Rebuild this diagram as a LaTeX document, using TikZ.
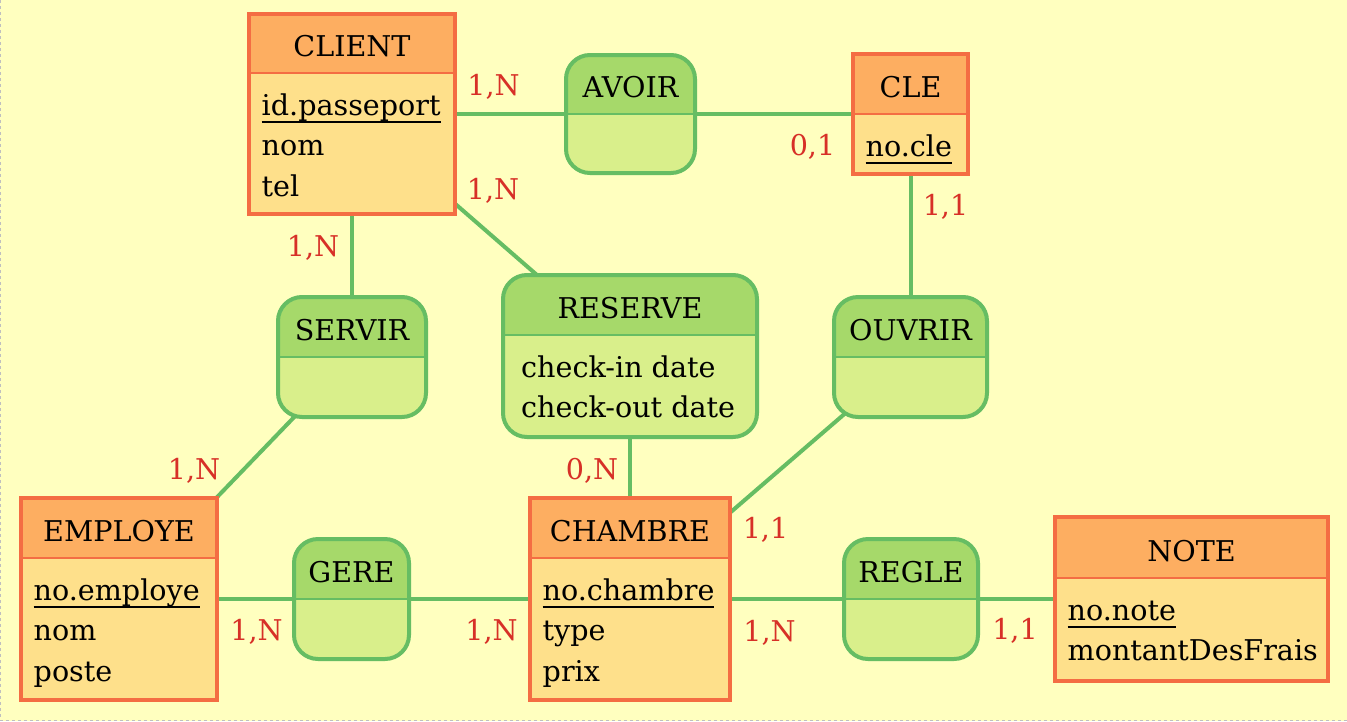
\documentclass[tikz,border=0pt]{standalone}
\usepackage{fontspec}
\setmainfont{DejaVu Serif}
\usetikzlibrary{fit}

\definecolor{paper}{HTML}{FFFFBF}
\definecolor{entborder}{HTML}{F46D43}
\definecolor{enthead}{HTML}{FDAE61}
\definecolor{entbody}{HTML}{FEE08B}
\definecolor{relborder}{HTML}{66BD63}
\definecolor{relhead}{HTML}{A6D96A}
\definecolor{relbody}{HTML}{D9EF8B}
\definecolor{cardred}{HTML}{D73027}

\pgfdeclarelayer{edges}
\pgfsetlayers{edges,main}

\tikzset{
  title/.style={anchor=base,inner sep=0pt},
  attr/.style={anchor=base west,inner sep=0pt},
  card/.style={anchor=base,inner sep=0pt,text=cardred},
  entbox/.style={draw=entborder,line width=4pt,inner sep=0pt,outer sep=0pt},
  relbox/.style={draw=relborder,line width=4pt,rounded corners=24pt,inner sep=0pt,outer sep=0pt},
  entsep/.style={draw=entborder,line width=2pt},
  relsep/.style={draw=relborder,line width=2pt},
  link/.style={draw=relborder,line width=4pt},
  frame/.style={draw=black!25,line width=1pt,dash pattern=on 3pt off 3pt}
}

\providecommand{\Ident}[1]{\setbox0\hbox{#1}\rlap{\rule[-7.5pt]{\wd0}{2pt}}\box0}

\providecommand{\Entity}[8]{
\fill[entbody] (#2,#3) rectangle (#4,#5);
\fill[enthead] (#2,#3) rectangle (#4,#6);
\draw[entsep] (#2,#6) -- (#4,#6);
\node[entbox,fit={(#2,#3) (#4,#5)}] (#1) {};
\node[title] (#1-title) at ({(#2+#4)/2},{#6-17}) {#7};
\foreach \row [count=\i] in {#8}
  \node[attr] (#1-\i) at ({#2+12.5},{#6+42+(\i-1)*40.5}) {\row};
}
\providecommand{\Relation}[7]{
\begin{scope}
\clip[rounded corners=24pt] (#2,#3) rectangle (#4,#5);
\fill[relbody] (#2,#3) rectangle (#4,#5);
\fill[relhead] (#2,#3) rectangle (#4,#6);
\draw[relsep] (#2,#6) -- (#4,#6);
\end{scope}
\node[relbox,fit={(#2,#3) (#4,#5)}] (#1) {};
\node[title] (#1-title) at ({(#2+#4)/2},{#6-17}) {#7};
}

\begin{document}
\begin{tikzpicture}[x=1pt,y=-1pt,font=\fontsize{28.6}{34}\selectfont]
\useasboundingbox (0,0) rectangle (1347,721);

% entities
\Entity{client}{249}{14}{455}{214}{73}{CLIENT}{\Ident{id.passeport},nom,tel}
\Entity{cle}{853}{54}{968}{174}{114}{CLE}{\Ident{no.cle}}
\Entity{employe}{21}{498}{217}{700}{558}{EMPLOYE}{\Ident{no.employe},nom,poste}
\Entity{chambre}{530}{498}{730}{700}{558}{CHAMBRE}{\Ident{no.chambre},type,prix}
\Entity{note}{1055}{517}{1328}{681}{578}{NOTE}{\Ident{no.note},montantDesFrais}

% relations
\Relation{avoir}{566}{55}{695}{173}{114}{AVOIR}
\Relation{servir}{278}{297}{426}{417}{357}{SERVIR}
\Relation{reserve}{503}{275}{757}{437}{335}{RESERVE}
\Relation{ouvrir}{834}{297}{987}{417}{357}{OUVRIR}
\Relation{gere}{294}{539}{409}{659}{599}{GERE}
\Relation{regle}{844}{539}{978}{659}{599}{REGLE}
\node[attr] (reserve-1) at (521,377) {check-in date};
\node[attr] (reserve-2) at (521,417.5) {check-out date};

% links, behind the boxes
\begin{pgfonlayer}{edges}
\fill[paper] (0,0) rectangle (1347,721);
\draw[frame] (0.5,0) -- (0.5,720.5) -- (1347,720.5);
\draw[link] (client.center) -- (avoir.center);
\draw[link] (avoir.center) -- (cle.center);
\draw[link] (client.center) -- (servir.center);
\draw[link] (client.center) -- (reserve.center);
\draw[link] (cle.center) -- (ouvrir.center);
\draw[link] (servir.center) -- (employe.center);
\draw[link] (reserve.center) -- (chambre.center);
\draw[link] (ouvrir.center) -- (chambre.center);
\draw[link] (employe.center) -- (gere.center);
\draw[link] (gere.center) -- (chambre.center);
\draw[link] (chambre.center) -- (regle.center);
\draw[link] (regle.center) -- (note.center);
\end{pgfonlayer}

% cardinalities
\node[card] (client-avoir) at (493.5,95) {1,N};
\node[card] (cle-avoir) at (812.5,155) {0,1};
\node[card] (client-reserve) at (493,199.5) {1,N};
\node[card] (client-servir) at (313,256) {1,N};
\node[card] (cle-ouvrir) at (945.5,215) {1,1};
\node[card] (employe-servir) at (194,479) {1,N};
\node[card] (chambre-reserve) at (592,479) {0,N};
\node[card] (chambre-ouvrir) at (765.5,538.5) {1,1};
\node[card] (employe-gere) at (256.5,640.5) {1,N};
\node[card] (chambre-gere) at (491.5,640.5) {1,N};
\node[card] (chambre-regle) at (769.5,641.5) {1,N};
\node[card] (note-regle) at (1015,639.5) {1,1};
\end{tikzpicture}
\end{document}
